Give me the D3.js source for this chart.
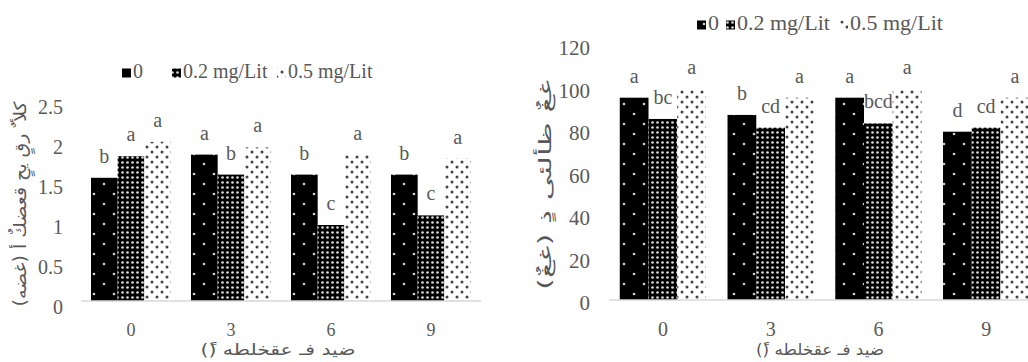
<!DOCTYPE html>
<html lang="ar">
<head>
<meta charset="UTF-8">
<title>Bars by day and dose</title>
<script src="https://d3js.org/d3.v7.min.js"></script>
<style>
  body { margin: 0; background: #fff; }
  svg { display: block; }
  .serif { font-family: "Liberation Serif", "Times New Roman", serif; fill: #595959; }
  .ar { font-family: "DejaVu Sans", sans-serif; fill: #595959; direction: rtl; }
</style>
</head>
<body>
<svg id="chart" width="1028" height="362"></svg>
<script>
// categories
const days = ["0", "3", "6", "9"];
const doses = ["0", "0.2 mg/Lit", "0.5 mg/Lit"];

// left panel values (one array per dose, by day)
const leftDose0 = [1.54, 1.83, 1.58, 1.58];
const leftDose02 = [1.81, 1.58, 0.95, 1.07];
const leftDose05 = [1.99, 1.92, 1.83, 1.78];
const leftLetters0 = ["b", "a", "b", "b"];
const leftLetters02 = ["a", "b", "c", "c"];
const leftLetters05 = ["a", "a", "a", "a"];
const leftTicks = [0, 0.5, 1, 1.5, 2, 2.5];

// right panel values
const rightDose0 = [95.2, 87.1, 95.2, 79.2];
const rightDose02 = [85.2, 81.1, 83.1, 81.1];
const rightDose05 = [99.1, 95.2, 99.1, 95.2];
const rightLetters0 = ["a", "b", "a", "d"];
const rightLetters02 = ["bc", "cd", "bcd", "cd"];
const rightLetters05 = ["a", "a", "a", "a"];
const rightTicks = [0, 20, 40, 60, 80, 100, 120];

// axis titles (as they appear in the source figure)
const leftYTitle = "كلأ ٌ رقٍ يحٍ قعضكٌ أ (غضه)";
const rightYTitle = "غغٌ ظألئى ذٍ (غغٌ)";
const xTitle = "ضيد فـ عقخلطه (ً)";

const svg = d3.select("#chart");
const defs = svg.append("defs");

// pattern fills: black with sparse white dots, black with dense white dots, white with black dots
const p0 = defs.append("pattern").attr("id", "pat0").attr("patternUnits", "userSpaceOnUse")
  .attr("width", 20).attr("height", 20);
p0.append("rect").attr("width", 20).attr("height", 20).attr("fill", "#000");
p0.append("circle").attr("cx", 4).attr("cy", 4).attr("r", 1.3).attr("fill", "#d0d0d0");
p0.append("circle").attr("cx", 14).attr("cy", 14).attr("r", 1.3).attr("fill", "#d0d0d0");

const p1 = defs.append("pattern").attr("id", "pat1").attr("patternUnits", "userSpaceOnUse")
  .attr("width", 5).attr("height", 5);
p1.append("rect").attr("width", 5).attr("height", 5).attr("fill", "#000");
p1.append("circle").attr("cx", 2.5).attr("cy", 2.5).attr("r", 1.35).attr("fill", "#d8d8d8");

const p2 = defs.append("pattern").attr("id", "pat2").attr("patternUnits", "userSpaceOnUse")
  .attr("width", 10).attr("height", 10);
p2.append("rect").attr("width", 10).attr("height", 10).attr("fill", "#fff");
p2.append("circle").attr("cx", 2).attr("cy", 2).attr("r", 1.5).attr("fill", "#444");
p2.append("circle").attr("cx", 7).attr("cy", 7).attr("r", 1.5).attr("fill", "#444");

function panel(o) {
  const g = svg.append("g");
  const x = d3.scaleBand().domain(days).range(o.xRange).paddingInner(0.2).paddingOuter(0.1);
  const xs = d3.scaleBand().domain(doses).range([0, x.bandwidth()]);
  const y = d3.scaleLinear().domain([0, o.yMax]).range(o.yRange);

  o.values.forEach((vals, si) => {
    g.append("g").selectAll("rect").data(vals).join("rect")
      .attr("x", (d, i) => x(days[i]) + xs(doses[si]))
      .attr("y", d => y(d))
      .attr("width", xs.bandwidth())
      .attr("height", d => y(0) - y(d))
      .attr("fill", `url(#pat${si})`);

    g.append("g").selectAll("text").data(vals).join("text")
      .attr("class", "serif")
      .attr("x", (d, i) => x(days[i]) + xs(doses[si]) + xs.bandwidth() / 2)
      .attr("y", d => y(d) - 15)
      .attr("text-anchor", "middle")
      .attr("font-size", o.letterSize)
      .text((d, i) => o.letters[si][i]);
  });

  // baseline
  g.append("line")
    .attr("x1", o.xRange[0]).attr("x2", o.xRange[1])
    .attr("y1", y(0)).attr("y2", y(0))
    .attr("stroke", "#d9d9d9").attr("stroke-width", 1.3);

  const ya = g.append("g").attr("transform", `translate(${o.xRange[0]},0)`)
    .call(d3.axisLeft(y).tickValues(o.yTicks).tickSize(0).tickPadding(o.yPad).tickFormat(d => String(d)));
  ya.select(".domain").remove();
  ya.selectAll("text").attr("class", "serif").attr("font-size", o.tickSize)
    .attr("transform", `translate(0,${o.yLabelShift})`);
  ya.attr("font-family", null).attr("font-size", null);

  const xa = g.append("g").attr("transform", `translate(0,${y(0)})`)
    .call(d3.axisBottom(x).tickSize(0).tickPadding(22));
  xa.select(".domain").remove();
  xa.selectAll("text").attr("class", "serif").attr("font-size", o.xTickSize);
  xa.attr("font-family", null).attr("font-size", null);

  // legend
  const lg = g.append("g");
  doses.forEach((s, si) => {
    lg.append("rect")
      .attr("x", o.legendX[si]).attr("y", o.legendY - 9.5)
      .attr("width", 9).attr("height", 9)
      .attr("fill", `url(#pat${si})`);
    lg.append("text").attr("class", "serif")
      .attr("x", o.legendX[si] + 11).attr("y", o.legendY)
      .attr("font-size", o.legendSize)
      .text(s);
  });

  // axis titles
  g.append("text").attr("class", "ar")
    .attr("transform", `translate(${o.yTitlePos[0]},${o.yTitlePos[1]}) rotate(-90)`)
    .attr("text-anchor", "middle").attr("dy", "0.35em")
    .attr("font-size", 17)
    .attr("textLength", o.yTitleLen).attr("lengthAdjust", "spacingAndGlyphs")
    .text(o.yTitle);

  g.append("text").attr("class", "ar")
    .attr("x", o.xTitlePos[0]).attr("y", o.xTitlePos[1])
    .attr("text-anchor", "middle")
    .attr("font-size", 16)
    .attr("textLength", o.xTitleLen).attr("lengthAdjust", "spacingAndGlyphs")
    .text(xTitle);
}

panel({
  values: [leftDose0, leftDose02, leftDose05],
  letters: [leftLetters0, leftLetters02, leftLetters05],
  yMax: 2.5, yTicks: leftTicks,
  xRange: [81, 481], yRange: [301, 101],
  yPad: 18, yLabelShift: 6,
  tickSize: 20, xTickSize: 18, letterSize: 20, legendSize: 20,
  legendX: [122, 172, 277], legendY: 78,
  yTitle: leftYTitle, yTitlePos: [20, 204], yTitleLen: 205,
  xTitlePos: [278, 355], xTitleLen: 155
});

panel({
  values: [rightDose0, rightDose02, rightDose05],
  letters: [rightLetters0, rightLetters02, rightLetters05],
  yMax: 120, yTicks: rightTicks,
  xRange: [609, 1040], yRange: [300, 45],
  yPad: 19, yLabelShift: 3,
  tickSize: 21, xTickSize: 20, letterSize: 20, legendSize: 22,
  legendX: [697, 726, 839], legendY: 30,
  yTitle: rightYTitle, yTitlePos: [545, 185], yTitleLen: 210,
  xTitlePos: [820, 355], xTitleLen: 128
});
</script>
</body>
</html>
